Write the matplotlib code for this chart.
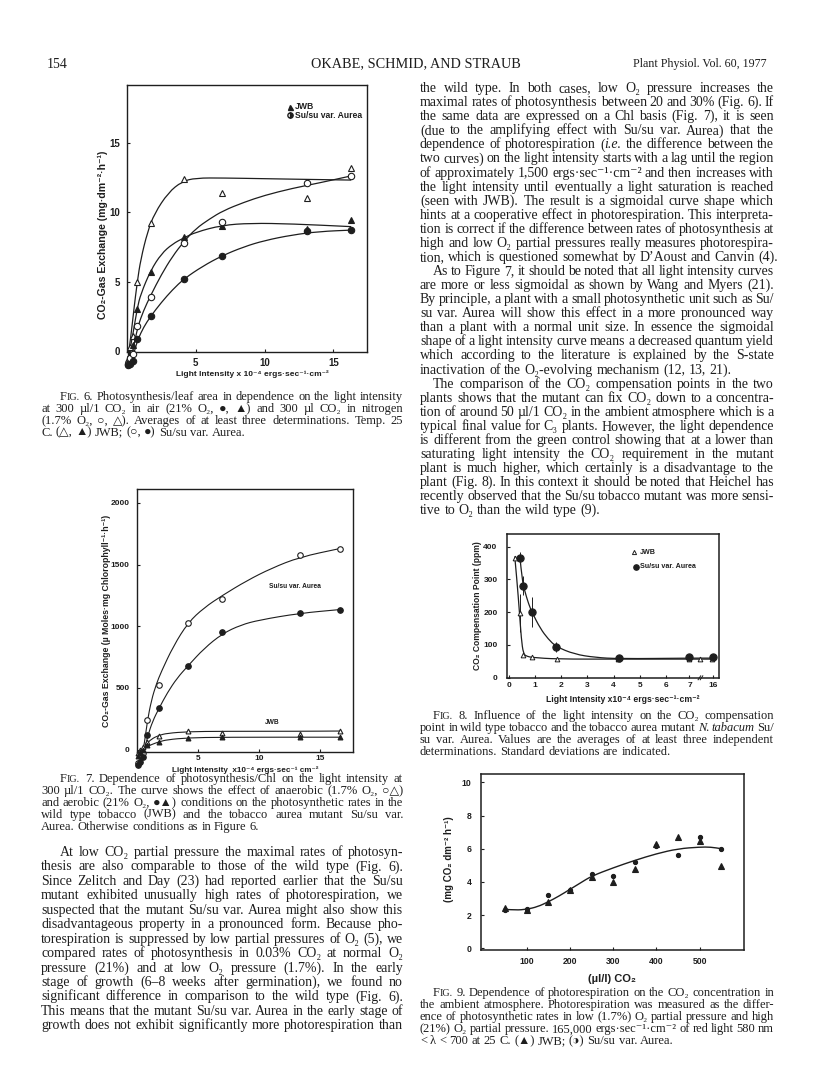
import matplotlib
matplotlib.use('Agg')
import matplotlib.pyplot as plt
from matplotlib.path import Path
from matplotlib.patches import PathPatch
from matplotlib.transforms import IdentityTransform
import numpy as np

W, H = 816, 1087
INK = '#1e1e1e'
SERIF = ['Liberation Serif', 'DejaVu Serif', 'DejaVu Sans']
SANS = ['Liberation Sans', 'DejaVu Sans']

# ------------------------------------------------------------------ data
# Fig 6 : CO2 gas exchange per leaf area vs light intensity (x10^-4 ergs/s/cm2)
x6 = [0.05, 0.2, 0.4, 0.75, 1.72, 4.15, 6.9, 13.1, 16.3]
f6_jwb_low_o2 = [-0.6, 0.3, 1.1, 5.0, 9.2, 12.4, 11.35, 11.0, 13.2]     # open triangles
f6_jwb_air = [-0.8, -0.2, 0.4, 3.0, 5.7, 8.2, 9.0, 8.8, 9.4]           # filled triangles
f6_su_low_o2 = [-0.9, -0.5, -0.2, 1.8, 3.9, 7.8, 9.3, 12.1, 12.6]      # open circles
f6_su_air = [-1.0, -0.9, -0.7, 0.85, 2.55, 5.2, 6.85, 8.6, 8.7]        # filled circles
# fitted curves as drawn
c6_jwb_low_x = [0.1, 0.3, 0.5, 0.75, 1.0, 1.5, 2.0, 3.0, 4.0, 5.0, 7.0, 10.0, 13.0, 16.3]
c6_jwb_low_y = [-0.3, 1.2, 3.0, 5.0, 6.6, 8.6, 9.9, 11.4, 12.2, 12.45, 12.45, 12.4, 12.35, 12.3]
c6_su_low_x = [0.3, 0.5, 0.8, 1.2, 1.72, 2.5, 3.3, 4.15, 5.0, 6.0, 7.0, 8.5, 10.0, 12.0, 14.0, 16.3]
c6_su_low_y = [-0.5, 0.4, 1.8, 2.9, 4.0, 5.5, 6.8, 7.9, 8.8, 9.5, 10.1, 10.7, 11.2, 11.7, 12.1, 12.6]
c6_jwb_air_x = [0.2, 0.5, 0.75, 1.0, 1.72, 2.5, 3.3, 4.15, 5.0, 6.9, 9.0, 12.0, 16.3]
c6_jwb_air_y = [0.0, 1.6, 3.1, 4.1, 5.8, 7.0, 7.7, 8.15, 8.55, 9.05, 9.2, 9.15, 8.95]
c6_su_air_x = [0.4, 0.6, 0.8, 1.2, 1.72, 2.5, 3.3, 4.15, 5.5, 6.9, 8.5, 10.0, 12.0, 14.0, 16.3]
c6_su_air_y = [-0.5, 0.2, 0.85, 1.7, 2.5, 3.5, 4.4, 5.2, 6.1, 6.85, 7.5, 7.95, 8.35, 8.6, 8.7]

# Fig 7 : CO2 gas exchange per chlorophyll
x7 = [0.1, 0.3, 0.5, 0.85, 1.8, 4.2, 7.0, 13.3, 16.6]
f7_su_low_o2 = [-110, -50, -30, 240, 520, 1030, 1220, 1580, 1630]
f7_su_air = [-125, -100, -60, 120, 340, 680, 950, 1110, 1135]
f7_jwb_low_o2 = [-30, 0, 20, 60, 110, 150, 135, 130, 150]
f7_jwb_air = [-50, -20, 0, 35, 60, 95, 100, 100, 100]
c7_su_low_x = [0.45, 0.65, 0.85, 1.2, 1.6, 2.0, 3.0, 4.2, 5.5, 7.0, 9.0, 11.0, 13.3, 16.6]
c7_su_low_y = [-40, 60, 220, 400, 530, 630, 840, 1030, 1150, 1250, 1370, 1470, 1560, 1630]
c7_su_air_x = [0.5, 0.7, 0.9, 1.3, 1.85, 2.5, 3.3, 4.2, 5.5, 7.0, 8.5, 10.0, 13.3, 16.6]
c7_su_air_y = [-60, 20, 110, 230, 340, 460, 580, 680, 820, 940, 1010, 1050, 1105, 1135]
c7_jwb_low_x = [0.5, 0.8, 1.2, 1.8, 2.5, 4.2, 7.0, 13.3, 16.6]
c7_jwb_low_y = [0, 45, 85, 115, 132, 145, 148, 148, 150]
c7_jwb_air_x = [0.5, 0.8, 1.2, 1.8, 2.5, 4.2, 7.0, 16.6]
c7_jwb_air_y = [-10, 20, 40, 62, 80, 95, 100, 100]

# Fig 8 : CO2 compensation point (broken light axis: positions on the drawn axis)
x8_ticks = [0, 1, 2, 3, 4, 5, 6, 6.9, 7.8]
x8_labels = ['0', '1', '2', '3', '4', '5', '6', '7', '16']
x8_jwb = [0.22, 0.42, 0.52, 0.87, 1.82, 4.15, 6.9, 7.3, 7.78]
f8_jwb = [366, 198, 70, 64, 57, 57, 57, 58, 57]
e8_jwb = [0, 58, 0, 0, 0, 0, 0, 0, 0]
x8_su = [0.42, 0.54, 0.89, 1.8, 4.2, 6.9, 7.8]
f8_su = [366, 281, 200, 95, 60, 62, 62]
e8_su = [16, 28, 46, 15, 4, 5, 4]
c8_jwb_x = [0.22, 0.3, 0.4, 0.47, 0.55, 0.7, 0.9, 1.8, 4.2, 6.9, 7.78]
c8_jwb_y = [370, 300, 200, 120, 72, 65, 62, 57, 57, 57, 57]
c8_su_x = [0.42, 0.5, 0.6, 0.75, 0.89, 1.2, 1.5, 1.8, 2.5, 3.3, 4.2, 6.9, 7.8]
c8_su_y = [366, 300, 265, 225, 198, 150, 118, 95, 72, 62, 58, 60, 60]

# Fig 9 : photorespiration vs CO2
x9 = [50, 100, 150, 200, 250, 300, 350, 400, 450, 500, 550]
f9_jwb = [2.4, 2.3, 2.8, 3.5, 4.3, 4.0, 4.75, 6.3, 6.7, 6.45, 4.95]
f9_su = [2.3, 2.35, 3.2, 3.5, 4.45, 4.35, 5.2, 6.15, 5.6, 6.7, 6.0]
c9_x = [50, 75, 100, 125, 150, 175, 200, 225, 250, 300, 350, 400, 450, 500, 525, 550]
c9_y = [2.35, 2.3, 2.35, 2.5, 2.8, 3.15, 3.55, 3.95, 4.35, 4.85, 5.3, 5.7, 6.0, 6.1, 6.1, 6.0]

# ------------------------------------------------------------------ text
cap6 = [
    ("FIG. 6. Photosynthesis/leaf area in dependence on the light intensity", 1, 1),
    ("at 300 µl/1 CO₂ in air (21% O₂, ●, ▲) and 300 µl CO₂ in nitrogen", 0, 1),
    ("(1.7% O₂, ○, △). Averages of at least three determinations. Temp. 25", 0, 1),
    ("C. (△, ▲) JWB; (○, ●) Su/su var. Aurea.", 0, 0),
]
cap7 = [
    ("FIG. 7. Dependence of photosynthesis/Chl on the light intensity at", 1, 1),
    ("300 µl/1 CO₂. The curve shows the effect of anaerobic (1.7% O₂, ○△)", 0, 1),
    ("and aerobic (21% O₂, ●▲) conditions on the photosynthetic rates in the", 0, 1),
    ("wild type tobacco (JWB) and the tobacco aurea mutant Su/su var.", 0, 1),
    ("Aurea. Otherwise conditions as in Figure 6.", 0, 0),
]
body_left = [
    ("At low CO₂ partial pressure the maximal rates of photosyn-", 1, 1),
    ("thesis are also comparable to those of the wild type (Fig. 6).", 0, 1),
    ("Since Zelitch and Day (23) had reported earlier that the Su/su", 0, 1),
    ("mutant exhibited unusually high rates of photorespiration, we", 0, 1),
    ("suspected that the mutant Su/su var. Aurea might also show this", 0, 1),
    ("disadvantageous property in a pronounced form. Because pho-", 0, 1),
    ("torespiration is suppressed by low partial pressures of O₂ (5), we", 0, 1),
    ("compared rates of photosynthesis in 0.03% CO₂ at normal O₂", 0, 1),
    ("pressure (21%) and at low O₂ pressure (1.7%). In the early", 0, 1),
    ("stage of growth (6–8 weeks after germination), we found no", 0, 1),
    ("significant difference in comparison to the wild type (Fig. 6).", 0, 1),
    ("This means that the mutant Su/su var. Aurea in the early stage of", 0, 1),
    ("growth does not exhibit significantly more photorespiration than", 0, 1),
]
body_right = [
    ("the wild type. In both cases, low O₂ pressure increases the", 0, 1),
    ("maximal rates of photosynthesis between 20 and 30% (Fig. 6). If", 0, 1),
    ("the same data are expressed on a Chl basis (Fig. 7), it is seen", 0, 1),
    ("(due to the amplifying effect with Su/su var. Aurea) that the", 0, 1),
    ("dependence of photorespiration (_i.e._ the difference between the", 0, 1),
    ("two curves) on the light intensity starts with a lag until the region", 0, 1),
    ("of approximately 1,500 ergs·sec⁻¹·cm⁻² and then increases with", 0, 1),
    ("the light intensity until eventually a light saturation is reached", 0, 1),
    ("(seen with JWB). The result is a sigmoidal curve shape which", 0, 1),
    ("hints at a cooperative effect in photorespiration. This interpreta-", 0, 1),
    ("tion is correct if the difference between rates of photosynthesis at", 0, 1),
    ("high and low O₂ partial pressures really measures photorespira-", 0, 1),
    ("tion, which is questioned somewhat by D’Aoust and Canvin (4).", 0, 0),
    ("As to Figure 7, it should be noted that all light intensity curves", 1, 1),
    ("are more or less sigmoidal as shown by Wang and Myers (21).", 0, 1),
    ("By principle, a plant with a small photosynthetic unit such as Su/", 0, 1),
    ("su var. Aurea will show this effect in a more pronounced way", 0, 1),
    ("than a plant with a normal unit size. In essence the sigmoidal", 0, 1),
    ("shape of a light intensity curve means a decreased quantum yield", 0, 1),
    ("which according to the literature is explained by the S-state", 0, 1),
    ("inactivation of the O₂-evolving mechanism (12, 13, 21).", 0, 0),
    ("The comparison of the CO₂ compensation points in the two", 1, 1),
    ("plants shows that the mutant can fix CO₂ down to a concentra-", 0, 1),
    ("tion of around 50 µl/1 CO₂ in the ambient atmosphere which is a", 0, 1),
    ("typical final value for C₃ plants. However, the light dependence", 0, 1),
    ("is different from the green control showing that at a lower than", 0, 1),
    ("saturating light intensity the CO₂ requirement in the mutant", 0, 1),
    ("plant is much higher, which certainly is a disadvantage to the", 0, 1),
    ("plant (Fig. 8). In this context it should be noted that Heichel has", 0, 1),
    ("recently observed that the Su/su tobacco mutant was more sensi-", 0, 1),
    ("tive to O₂ than the wild type (9).", 0, 0),
]
cap8 = [
    ("FIG. 8. Influence of the light intensity on the CO₂ compensation", 1, 1),
    ("point in wild type tobacco and the tobacco aurea mutant _N._ _tabacum_ Su/", 0, 1),
    ("su var. Aurea. Values are the averages of at least three independent", 0, 1),
    ("determinations. Standard deviations are indicated.", 0, 0),
]
cap9 = [
    ("FIG. 9. Dependence of photorespiration on the CO₂ concentration in", 1, 1),
    ("the ambient atmosphere. Photorespiration was measured as the differ-", 0, 1),
    ("ence of photosynthetic rates in low (1.7%) O₂ partial pressure and high", 0, 1),
    ("(21%) O₂ partial pressure. 165,000 ergs·sec⁻¹·cm⁻² of red light 580 nm", 0, 1),
    ("< λ < 700 at 25 C. (▲) JWB; (◑) Su/su var. Aurea.", 0, 0),
]

# ------------------------------------------------------------------ figure
fig = plt.figure(figsize=(W / 100, H / 100), dpi=100)
fig.patch.set_facecolor('white')
renderer = fig.canvas.get_renderer()
ID = IdentityTransform()

LX0, LX1 = 41, 403
RX0, RX1 = 420, 774
IND_L, IND_R = 19, 13


def ax_px(left, top, right, bottom):
    return fig.add_axes([left / W, 1 - bottom / H, (right - left) / W, (bottom - top) / H])


def smooth(ax, xs, ys, lw=0.9):
    pts_ = list(zip(xs, ys))
    verts, codes = [pts_[0]], [Path.MOVETO]
    for i in range(1, len(pts_) - 1):
        m = ((pts_[i][0] + pts_[i + 1][0]) / 2, (pts_[i][1] + pts_[i + 1][1]) / 2)
        verts += [pts_[i], m]
        codes += [Path.CURVE3, Path.CURVE3]
    verts.append(pts_[-1])
    codes.append(Path.LINETO)
    ax.add_patch(PathPatch(Path(verts, codes), fill=False, lw=lw, ec=INK, zorder=2, clip_on=False))


def frame(ax, ticksize, lw=1.0):
    for s in ax.spines.values():
        s.set_linewidth(lw)
        s.set_color(INK)
    ax.tick_params(direction='in', length=2.5, width=0.8, colors=INK, labelsize=ticksize)
    for lab in ax.get_xticklabels() + ax.get_yticklabels():
        lab.set_fontfamily(SANS)
        lab.set_fontweight('bold')


def mk_text(x, y, s, size, rot=0, fam=None, weight='bold', ha='center', va='center', style='normal'):
    fam = fam or SANS
    return fig.text(x, H - y, s, fontsize=size, family=fam, fontweight=weight, rotation=rot,
                    ha=ha, va=va, color=INK, transform=ID, fontstyle=style)


def fit_size_for(s, target, rot=0, fam=None, weight='bold'):
    t = mk_text(0, 0, s, 10, rot=rot, fam=fam, weight=weight)
    bb = t.get_window_extent(renderer)
    t.remove()
    L = bb.height if rot == 90 else bb.width
    return 10 * target / L


def fit_text(x, y, s, target, rot=0, fam=None, weight='bold', ha='center', va='center'):
    size = fit_size_for(s, target, rot, fam, weight)
    return mk_text(x, y, s, size, rot=rot, fam=fam, weight=weight, ha=ha, va=va)


def pts(ax, x, y, marker, filled, ms, mew=0.8, **kw):
    ax.plot(x, y, linestyle='none', marker=marker, ms=ms, mew=mew, mec=INK,
            mfc=INK if filled else 'white', zorder=3, clip_on=False, **kw)


def ax_frac(ax_box, xpx, ypx):
    l, t, r, b = ax_box
    return (xpx - l) / (r - l), (b - ypx) / (b - t)


# ---------------- Fig 6
B6 = (127, 85, 367, 352)
ax6 = ax_px(*B6)
ax6.set_xlim(0, 17.45)
ax6.set_ylim(-0.07, 19.14)
for cx, cy in [(c6_jwb_low_x, c6_jwb_low_y), (c6_su_low_x, c6_su_low_y),
               (c6_jwb_air_x, c6_jwb_air_y), (c6_su_air_x, c6_su_air_y)]:
    smooth(ax6, cx, cy)
pts(ax6, x6, f6_jwb_low_o2, '^', False, 4.2)
pts(ax6, x6, f6_jwb_air, '^', True, 4.2)
pts(ax6, x6, f6_su_low_o2, 'o', False, 4.6)
pts(ax6, x6, f6_su_air, 'o', True, 4.6)
ax6.set_xticks([5, 10, 15], ['5', '10', '15'])
ax6.set_yticks([0, 5, 10, 15], ['0', '5', '10', '15'])
frame(ax6, 7)
ax6.tick_params(axis='y', pad=5)
ax6.tick_params(axis='x', pad=4)
ax6.plot(*ax_frac(B6, 290, 106.5), transform=ax6.transAxes, marker='^', ms=3.6, mfc=INK, mec=INK, ls='none')
ax6.plot(*ax_frac(B6, 290, 115), transform=ax6.transAxes, marker='o', ms=3.8, mec=INK, mfc=INK,
         mfcalt='white', fillstyle='right', ls='none')
s6 = fit_size_for('Su/su var. Aurea', 68)
mk_text(295, 106.5, 'JWB', s6, ha='left')
mk_text(295, 115, 'Su/su var. Aurea', s6, ha='left')
fit_text(252, 374, 'Light Intensity x 10⁻⁴ ergs·sec⁻¹·cm⁻²', 150)
fit_text(103, 235, 'CO₂-Gas Exchange (mg·dm⁻²·h⁻¹)', 170, rot=90)

# ---------------- Fig 7
B7 = (136.7, 489.3, 352.7, 752)
ax7 = ax_px(*B7)
ax7.set_xlim(0, 17.63)
ax7.set_ylim(-20, 2110)
for cx, cy in [(c7_su_low_x, c7_su_low_y), (c7_su_air_x, c7_su_air_y),
               (c7_jwb_low_x, c7_jwb_low_y), (c7_jwb_air_x, c7_jwb_air_y)]:
    smooth(ax7, cx, cy, lw=0.8)
pts(ax7, x7, f7_su_low_o2, 'o', False, 4.0)
pts(ax7, x7, f7_su_air, 'o', True, 4.0)
pts(ax7, x7, f7_jwb_low_o2, '^', False, 3.5)
pts(ax7, x7, f7_jwb_air, '^', True, 3.5)
ax7.set_xticks([5, 10, 15], ['5', '10', '15'])
ax7.set_yticks([0, 500, 1000, 1500, 2000], ['0', '500', '1000', '1500', '2000'])
frame(ax7, 6)
ax7.tick_params(axis='y', pad=5)
ax7.tick_params(axis='x', pad=2.5)
s7 = fit_size_for('Su/su var. Aurea', 52)
mk_text(295, 587, 'Su/su var. Aurea', s7)
mk_text(272, 723, 'JWB', s7)
fit_text(245, 770, 'Light Intensity  x10⁻⁴ ergs·sec⁻¹ cm⁻²', 146)
fit_text(106.7, 621, 'CO₂-Gas Exchange (µ Moles·mg Chlorophyll⁻¹·h⁻¹)', 212, rot=90)

# ---------------- Fig 8
B8 = (507.3, 534, 719, 677.8)
ax8 = ax_px(*B8)
ax8.set_xlim(-0.065, 8.03)
ax8.set_ylim(0, 438.4)
smooth(ax8, c8_jwb_x, c8_jwb_y, lw=0.9)
smooth(ax8, c8_su_x, c8_su_y, lw=0.9)
ax8.errorbar(x8_jwb, f8_jwb, yerr=e8_jwb, fmt='none', ecolor=INK, elinewidth=0.7, capsize=0, zorder=2)
ax8.errorbar(x8_su, f8_su, yerr=e8_su, fmt='none', ecolor=INK, elinewidth=0.7, capsize=0, zorder=2)
pts(ax8, x8_jwb, f8_jwb, '^', False, 3.4, mew=0.7)
pts(ax8, x8_su, f8_su, 'o', True, 5.2)
ax8.set_xticks(x8_ticks, x8_labels)
ax8.set_yticks([0, 100, 200, 300, 400], ['0', '100', '200', '300', '400'])
frame(ax8, 6, lw=1.1)
ax8.tick_params(axis='y', pad=7)
ax8.tick_params(axis='x', pad=3)
for dx in (-0.04, 0.04):
    ax8.plot([7.32 + dx - 0.05, 7.32 + dx + 0.05], [-6, 6], color=INK, lw=0.7, clip_on=False)
ax8.plot(*ax_frac(B8, 634, 552), transform=ax8.transAxes, marker='^', ms=3.0, mfc='white', mec=INK,
         mew=0.7, ls='none')
ax8.plot(*ax_frac(B8, 636, 566.7), transform=ax8.transAxes, marker='o', ms=3.8, mfc=INK, mec=INK, ls='none')
s8 = fit_size_for('Su/su var. Aurea', 56)
mk_text(639.5, 552, 'JWB', s8, ha='left')
mk_text(639.5, 567, 'Su/su var. Aurea', s8, ha='left')
fit_text(623, 699.5, 'Light Intensity x10⁻⁴ ergs·sec⁻¹·cm⁻²', 154)
fit_text(477.3, 606, 'CO₂ Compensation Point (ppm)', 128, rot=90)

# ---------------- Fig 9
B9 = (481, 774, 744.3, 950)
ax9 = ax_px(*B9)
ax9.set_xlim(-5.3, 602.8)
ax9.set_ylim(-0.1, 10.5)
smooth(ax9, c9_x, c9_y, lw=1.0)
pts(ax9, x9, f9_jwb, '^', True, 4.6)
pts(ax9, x9, f9_su, 'o', True, 3.0)
ax9.set_xticks([100, 200, 300, 400, 500], ['100', '200', '300', '400', '500'])
ax9.set_yticks([0, 2, 4, 6, 8, 10], ['0', '2', '4', '6', '8', '10'])
frame(ax9, 6.2, lw=1.1)
ax9.tick_params(axis='y', pad=7)
ax9.tick_params(axis='x', pad=5)
fit_text(611.7, 979, '(µl/l) CO₂', 48)
fit_text(449.3, 859, '(mg CO₂ dm⁻² h⁻¹)', 86, rot=90)


# ---------------- running text
def natural_width(text, size):
    t = fig.text(0, 0, text.replace('_', ''), fontsize=size, family=SERIF, transform=ID)
    w = t.get_window_extent(renderer).width
    t.remove()
    return w


def fit_size(blocks, factor):
    ratios = []
    for lines, x0, x1, ind_w in blocks:
        for text, ind, just in lines:
            if just:
                ratios.append((x1 - x0 - ind * ind_w) / natural_width(text, 10))
    return 10 * float(np.median(ratios)) * factor


def pieces(word, size):
    if word == 'FIG.':
        return [('F', size, 'normal'), ('IG.', size * 0.8, 'normal')]
    if len(word) > 2 and word.startswith('_') and word.endswith('_'):
        return [(word[1:-1], size, 'italic')]
    if word.startswith('(_') and '_' in word[2:]:
        a, b = word[2:].split('_', 1)
        return [('(', size, 'normal'), (a, size, 'italic'), (b, size, 'normal')]
    return [(word, size, 'normal')]


def draw_block(lines, x0, x1, ind_w, y0, dy, size):
    em = size * 100 / 72
    space = 0.25 * em
    for k, (text, ind, just) in enumerate(lines):
        ybase = y0 + k * dy + 0.24 * em
        items = []
        for w in text.split():
            pcs = []
            for s, sz, st in pieces(w, size):
                t = fig.text(0, 0, s, fontsize=sz, fontstyle=st, family=SERIF, color=INK,
                             ha='left', va='baseline', transform=ID)
                pcs.append((t, t.get_window_extent(renderer).width))
            items.append(pcs)
        widths = [sum(wd for _, wd in p) for p in items]
        start = x0 + ind * ind_w
        if just and len(items) > 1:
            gap = (x1 - start - sum(widths)) / (len(items) - 1)
        else:
            gap = space
        x = start
        for p, wsum in zip(items, widths):
            xx = x
            for t, wd in p:
                t.set_position((xx, H - ybase))
                xx += wd
            x += wsum + gap


body_size = fit_size([(body_left, LX0, LX1, IND_L), (body_right, RX0, RX1, IND_R)], 0.975)
cap_size = fit_size([(cap6, LX0, LX1, IND_L), (cap7, LX0, LX1, IND_L),
                     (cap8, RX0, RX1, IND_R), (cap9, RX0, RX1, IND_R)], 0.975)

draw_block(cap6, LX0, LX1, IND_L, 397, 11.9, cap_size)
draw_block(cap7, LX0, LX1, IND_L, 779, 11.9, cap_size)
draw_block(body_left, LX0, LX1, IND_L, 852.7, 14.44, body_size)
draw_block(body_right, RX0, RX1, IND_R, 88.8, 14.07, body_size)
draw_block(cap8, RX0, RX1, IND_R, 716, 12.1, cap_size)
draw_block(cap9, RX0, RX1, IND_R, 993, 12.1, cap_size)

# header
mk_text(47, 67.5, '154', body_size, fam=SERIF, weight='normal', ha='left', va='baseline')
fit_text(416, 67.5, 'OKABE, SCHMID, AND STRAUB', 208, fam=SERIF, weight='normal', va='baseline')
fit_text(767, 67.5, 'Plant Physiol. Vol. 60, 1977', 134, fam=SERIF, weight='normal',
         ha='right', va='baseline')

fig.savefig('out.png', dpi=100, facecolor='white')
